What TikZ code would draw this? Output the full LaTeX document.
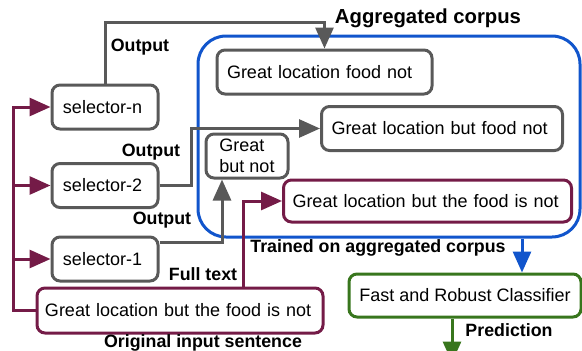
\documentclass[tikz,border=0pt]{standalone}
\usepackage{fontspec}
\setmainfont{Liberation Sans}
\usetikzlibrary{arrows.meta}
\definecolor{linegray}{HTML}{595959}
\definecolor{sentpurple}{HTML}{741B47}
\definecolor{corpusblue}{HTML}{1155CC}
\definecolor{clfgreen}{HTML}{38761D}
\tikzset{
  txt/.style={font=\fontsize{18}{21}\selectfont},
  tag/.style={font=\bfseries\fontsize{17.8}{20}\selectfont,inner sep=0pt},
  selbox/.style={txt,draw=linegray,line width=3pt,rounded corners=8pt,inner sep=0pt,minimum height=44pt},
  sentbox/.style={selbox,draw=sentpurple},
  clfbox/.style={selbox,draw=clfgreen},
  aggbox/.style={draw=corpusblue,line width=3pt,rounded corners=28pt,inner sep=0pt},
  tip/.style={-{Triangle[length=21pt,width=18pt]}},
  outline/.style={tip,draw=linegray,line width=3pt},
  feedline/.style={tip,draw=sentpurple,line width=3pt},
  trainline/.style={tip,draw=corpusblue,line width=3pt},
  predline/.style={tip,draw=clfgreen,line width=3pt}
}
\begin{document}
\begin{tikzpicture}[x=1pt,y=-1pt]
\clip (0,0) rectangle (582,351);
%
\node[aggbox,minimum width=382pt,minimum height=201pt] (agg) at (389,136.5) {};
\node[tag,font=\bfseries\fontsize{20.3}{22}\selectfont] (aggtag) at (428,18) {Aggregated corpus};
%
\node[selbox,minimum width=215pt,text width=195pt] (glfn) at (324.5,72) {Great location food not};
\node[selbox,minimum width=241pt,text width=221pt] (glbfn) at (442,128.5) {Great location but food not};
\node[selbox,minimum width=82pt,align=left,text depth=0pt] (gbn) at (247,156) {Great\\but not};
\node[sentbox,minimum width=288pt,minimum height=42pt,text width=270pt] (full) at (427.5,201) {Great location but the food is not};
%
\node[selbox,minimum width=106pt,text width=84pt] (seln) at (105,107) {selector-n};
\node[selbox,minimum width=106pt,text width=84pt] (sel2) at (105,185.5) {selector-2};
\node[selbox,minimum width=106pt,text width=84pt] (sel1) at (105,259) {selector-1};
\node[sentbox,minimum width=286pt,minimum height=45pt,text width=270pt] (orig) at (180,310.5) {Great location but the food is not};
\node[clfbox,minimum width=232pt,minimum height=43pt] (clf) at (465,295.5) {Fast and Robust Classifier};
%
\node[tag] (outn) at (140,47) {Output};
\node[tag] (out2) at (151,152) {Output};
\node[tag] (out1) at (162,220) {Output};
\node[tag] (fulltag) at (203,274) {Full text};
\node[tag] (origtag) at (203,343) {Original input sentence};
\node[tag] (traintag) at (378,248) {Trained on aggregated corpus};
\node[tag] (predtag) at (509,330) {Prediction};
%
\coordinate (toprail) at (0,22);
\coordinate (rail) at (13,0);
\draw[outline] (seln.north) -- (seln.north |- toprail) -| (glfn.north);
\draw[outline] (sel2.east) -- ++(32,0) |- (glbfn.west);
\draw[outline] ([yshift=17pt]sel1.east) -| ([xshift=-25pt]gbn.south);
%
\draw[feedline] (orig.west) -- (rail |- orig.west) |- (seln.west);
\draw[feedline] (rail |- sel2.west) -- (sel2.west);
\draw[feedline] (rail |- sel1.west) -- (sel1.west);
\draw[feedline] ([xshift=63pt]orig.north) |- (full.west);
%
\coordinate (clfin) at ([xshift=57pt]clf.north);
\draw[trainline] (agg.south -| clfin) -- (clfin);
\draw[predline] ([xshift=-13pt]clf.south) -- ++(0,44);
\end{tikzpicture}
\end{document}
